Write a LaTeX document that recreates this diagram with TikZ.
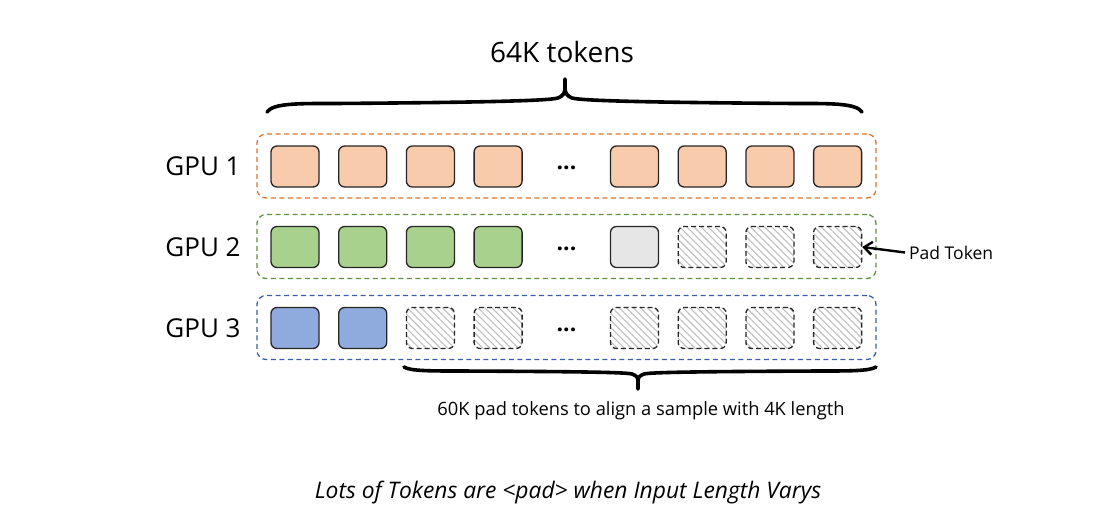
\documentclass[tikz,border=0pt]{standalone}
\usepackage{fontspec}
\setmainfont{Open Sans}
\usetikzlibrary{patterns.meta,arrows.meta}
\definecolor{orFill}{HTML}{F8CBAD}
\definecolor{orLine}{HTML}{D9732E}
\definecolor{grFill}{HTML}{A9D18E}
\definecolor{grLine}{HTML}{5E9140}
\definecolor{blFill}{HTML}{8FAADC}
\definecolor{blLine}{HTML}{3A5FA8}
\definecolor{lgFill}{HTML}{E6E6E6}
\tikzset{
  tok/.style={draw=black!85,line width=1.3pt,rounded corners=6pt,minimum width=48pt,minimum height=41pt,inner sep=0pt},
  padtok/.style={tok,dash pattern=on 5pt off 3pt,pattern={Lines[angle=-45,distance=5pt,line width=1.1pt]},pattern color=black!25},
  cont/.style={line width=1.3pt,dash pattern=on 5pt off 3.5pt,rounded corners=9pt,minimum width=619pt,minimum height=64pt,inner sep=0pt},
  gpulbl/.style={font=\fontsize{26}{30}\selectfont,inner sep=0pt},
  dotslbl/.style={font=\fontsize{23}{28}\selectfont\bfseries,inner sep=0pt},
  bracel/.style={line width=3.6pt,line cap=round,line join=round}
}
\begin{document}
\begin{tikzpicture}[x=1pt,y=-1pt]
\useasboundingbox (0,0) rectangle (1111,530);
% containers
\node[cont,draw=orLine] (c1) at (566.5,166) {};
\node[cont,draw=grLine] (c2) at (566.5,246.5) {};
\node[cont,draw=blLine] (c3) at (566.5,327.5) {};
% labels
\node[gpulbl] (g1) at (203,166) {GPU 1};
\node[gpulbl] (g2) at (203,247) {GPU 2};
\node[gpulbl] (g3) at (203,328) {GPU 3};
% row 1
\node[tok,fill=orFill] (a1) at (295,166.5) {};
\node[tok,fill=orFill] (a2) at (362.7,166.5) {};
\node[tok,fill=orFill] (a3) at (430.4,166.5) {};
\node[tok,fill=orFill] (a4) at (498.1,166.5) {};
\node[dotslbl] (ad) at (566.5,168) {...};
\node[tok,fill=orFill] (a5) at (634.5,166.5) {};
\node[tok,fill=orFill] (a6) at (702.2,166.5) {};
\node[tok,fill=orFill] (a7) at (769.9,166.5) {};
\node[tok,fill=orFill] (a8) at (837.6,166.5) {};
% row 2
\node[tok,fill=grFill] (b1) at (295,247) {};
\node[tok,fill=grFill] (b2) at (362.7,247) {};
\node[tok,fill=grFill] (b3) at (430.4,247) {};
\node[tok,fill=grFill] (b4) at (498.1,247) {};
\node[dotslbl] (bd) at (566.5,248.5) {...};
\node[tok,fill=lgFill] (b5) at (634.5,247) {};
\node[padtok] (b6) at (702.2,247) {};
\node[padtok] (b7) at (769.9,247) {};
\node[padtok] (b8) at (837.6,247) {};
% row 3
\node[tok,fill=blFill] (d1) at (295,328) {};
\node[tok,fill=blFill] (d2) at (362.7,328) {};
\node[padtok] (d3) at (430.4,328) {};
\node[padtok] (d4) at (498.1,328) {};
\node[dotslbl] (dd) at (566.5,329.5) {...};
\node[padtok] (d5) at (634.5,328) {};
\node[padtok] (d6) at (702.2,328) {};
\node[padtok] (d7) at (769.9,328) {};
\node[padtok] (d8) at (837.6,328) {};
% top brace
\node[font=\fontsize{28}{34}\selectfont,inner sep=0pt] (top) at (562,52) {64K tokens};
\coordinate (tl) at (267,112);
\coordinate (tr) at (862,112);
\coordinate (tt) at (565,79);
\draw[bracel] (tl) .. controls (273,103) and (300,103.5) .. (335,103.5)
  .. controls (470,102.5) and (548,101) .. (558,98)
  .. controls (563,96) and (565,93) .. (565,88) -- (tt);
\draw[bracel] (tr) .. controls (856,103) and (830,103.5) .. (795,103.5)
  .. controls (660,102.5) and (582,101) .. (572,98)
  .. controls (567,96) and (565,93) .. (565,88);
% bottom brace
\coordinate (bl) at (404,367);
\coordinate (br) at (876,367);
\coordinate (bt) at (638,389);
\draw[bracel] (bl) .. controls (410,371) and (430,371) .. (460,371)
  .. controls (560,371.5) and (625,372) .. (632,374)
  .. controls (636,375.5) and (638,377) .. (638,381) -- (bt);
\draw[bracel] (br) .. controls (870,371) and (850,371) .. (820,371)
  .. controls (720,371.5) and (651,372) .. (644,374)
  .. controls (640,375.5) and (638,377) .. (638,381);
\node[font=\fontsize{18.3}{22}\selectfont,inner sep=0pt] (btxt) at (641,411) {60K pad tokens to align a sample with 4K length};
% pad token label
\node[font=\fontsize{17.5}{21}\selectfont,inner sep=0pt,anchor=west] (pad) at (909,253) {Pad Token};
\draw[line width=2.4pt,-{Straight Barb[length=8pt,width=13pt]}] (pad.west) ++(-4,-0.5) -- (b8.east);
% caption
\node[font=\fontsize{22.8}{27}\selectfont\itshape,inner sep=0pt] (cap) at (568,493) {Lots of Tokens are <pad> when Input Length Varys};
\end{tikzpicture}
\end{document}
